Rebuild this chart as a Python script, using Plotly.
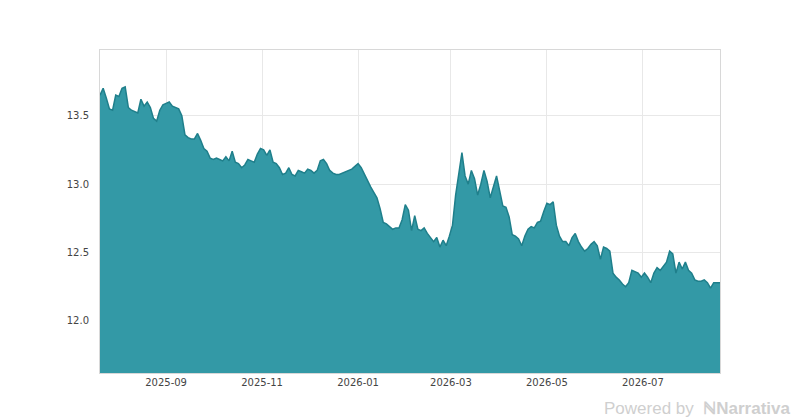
import pandas as pd
import plotly.graph_objects as go

# 数据：每两天一个点
start_date = '2025-07-21'
values = [
    13.65, 13.70, 13.63, 13.55, 13.54, 13.65, 13.64, 13.70, 13.71, 13.56,
    13.54, 13.53, 13.52, 13.62, 13.57, 13.60, 13.56, 13.48, 13.46, 13.54,
    13.58, 13.59, 13.60, 13.57, 13.56, 13.55, 13.50, 13.36, 13.34, 13.33,
    13.33, 13.37, 13.32, 13.26, 13.24, 13.19, 13.18, 13.19, 13.18, 13.17,
    13.20, 13.17, 13.24, 13.16, 13.15, 13.12, 13.14, 13.18, 13.17, 13.16,
    13.22, 13.26, 13.25, 13.21, 13.25, 13.16, 13.15, 13.12, 13.07, 13.08,
    13.12, 13.07, 13.06, 13.10, 13.09, 13.08, 13.11, 13.10, 13.08, 13.10,
    13.17, 13.18, 13.15, 13.10, 13.08, 13.07, 13.07, 13.08, 13.09, 13.10,
    13.11, 13.13, 13.15, 13.12, 13.07, 13.02, 12.98, 12.94, 12.90, 12.82,
    12.72, 12.71, 12.69, 12.67, 12.68, 12.68, 12.74, 12.85, 12.81, 12.66,
    12.77, 12.67, 12.66, 12.68, 12.64, 12.61, 12.58, 12.61, 12.54, 12.59,
    12.55, 12.62, 12.70, 12.92, 13.06, 13.23, 13.06, 13.00, 13.10, 13.04,
    12.92, 13.00, 13.10, 13.02, 12.90, 12.98, 13.06, 12.95, 12.84, 12.83,
    12.76, 12.63, 12.62, 12.60, 12.55, 12.62, 12.67, 12.69, 12.68, 12.72,
    12.73, 12.80, 12.86, 12.85, 12.87, 12.70, 12.62, 12.58, 12.58, 12.55,
    12.61, 12.64, 12.58, 12.54, 12.51, 12.53, 12.56, 12.58, 12.55, 12.45,
    12.54, 12.53, 12.51, 12.35, 12.32, 12.30, 12.27, 12.25, 12.28, 12.37,
    12.36, 12.35, 12.32, 12.35, 12.32, 12.28, 12.35, 12.39, 12.37, 12.40,
    12.43, 12.51, 12.49, 12.35, 12.43, 12.38, 12.43, 12.37, 12.35, 12.30,
    12.29, 12.29, 12.30, 12.28, 12.24, 12.28, 12.28, 12.28,
]
dates = pd.date_range(start_date, periods=len(values), freq='2D')

fig = go.Figure()
fig.add_trace(go.Scatter(
    x=dates, y=values, mode='lines', fill='tozeroy',
    line=dict(color='#1f7f8b', width=1.5),
    fillcolor='rgba(51,153,166,1)',
    hoverinfo='x+y',
))

# 页面自带 8px 边距，这里扣掉
fig.update_layout(
    width=800, height=420,
    margin=dict(l=92, r=88, t=42, b=55),
    paper_bgcolor='white', plot_bgcolor='white',
    showlegend=False,
    font=dict(family='DejaVu Sans', size=10, color='#444'),
)
fig.update_xaxes(
    range=[dates[0], dates[-1]],
    tick0='2025-09-01', dtick='M2', tickformat='%Y-%m',
    showgrid=True, gridcolor='#e8e8e8',
    showline=True, linecolor='#d8d8d8', mirror=True,
    ticks='', ticklen=0,
)
fig.update_yaxes(
    range=[11.62, 13.98], dtick=0.5, tickformat='.1f',
    showgrid=True, gridcolor='#e8e8e8', zeroline=False,
    showline=True, linecolor='#d8d8d8', mirror=True,
    ticks='', ticklabelstandoff=8,
)

# 水印
fig.add_annotation(
    x=1.0, y=0, xref='paper', yref='paper', xanchor='right', yanchor='middle',
    xshift=72, yshift=-35, showarrow=False,
    text="Powered by  <b>\u2115Narrativa</b>",
    font=dict(family='Liberation Sans', size=17, color='#cfcfcf'),
)

fig.write_html("out.html")
